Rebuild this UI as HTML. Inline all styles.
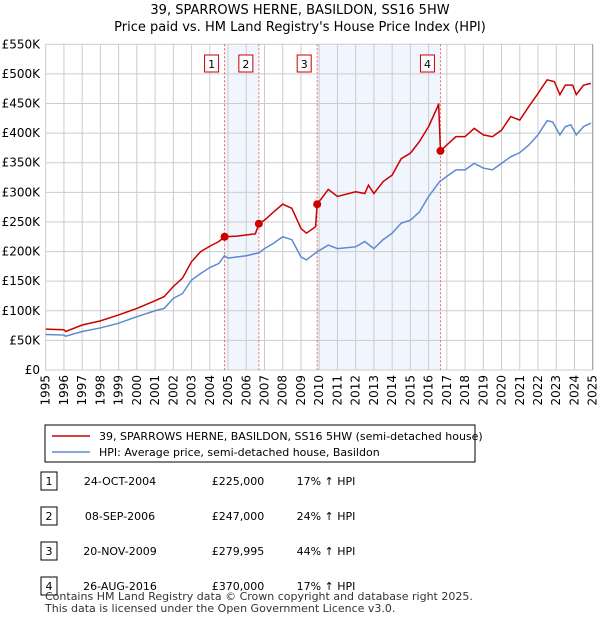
<!DOCTYPE html>
<html><head><meta charset="utf-8"><style>
body{margin:0;background:#fff;font-family:"DejaVu Sans","Liberation Sans",sans-serif;}
svg text{font-family:"DejaVu Sans","Liberation Sans",sans-serif;}
</style></head><body>
<svg id="c" width="600" height="620" xmlns="http://www.w3.org/2000/svg">
<text x="300" y="14" text-anchor="middle" font-size="13">39, SPARROWS HERNE, BASILDON, SS16 5HW</text>
<text x="300" y="31" text-anchor="middle" font-size="13">Price paid vs. HM Land Registry's House Price Index (HPI)</text>
<g id="plot"></g>
<rect x="45" y="425" width="430" height="37" fill="#fff" stroke="#000" stroke-width="1"/>
<line x1="52" y1="436" x2="90" y2="436" stroke="#cc0000" stroke-width="1.5"/>
<text x="99" y="440" font-size="11">39, SPARROWS HERNE, BASILDON, SS16 5HW (semi-detached house)</text>
<line x1="52" y1="452" x2="90" y2="452" stroke="#5b8bd0" stroke-width="1.5"/>
<text x="99" y="456" font-size="11">HPI: Average price, semi-detached house, Basildon</text>
<g id="table" font-size="11"></g>
<text x="45" y="600" font-size="11" fill="#333">Contains HM Land Registry data © Crown copyright and database right 2025.</text>
<text x="45" y="612" font-size="11" fill="#333">This data is licensed under the Open Government Licence v3.0.</text>
</svg>
<script>
const hpiYears=[1995,1996,1996.1,1997,1998,1999,2000,2001,2001.5,2002,2002.5,2003,2003.5,2004,2004.5,2004.8,2005,2006,2006.7,2007,2007.5,2008,2008.5,2009,2009.3,2009.9,2010.5,2011,2012,2012.5,2013,2013.5,2014,2014.5,2015,2015.5,2016,2016.6,2017,2017.5,2018,2018.5,2019,2019.5,2020,2020.5,2021,2021.5,2022,2022.5,2022.8,2023.2,2023.5,2023.8,2024.1,2024.5,2024.9];
const hpiValues=[60,59,57,65,71,79,90,100,104,121,129,152,163,173,180,193,189,193,198,205,214,225,220,191,186,200,211,205,208,217,205,220,231,248,253,267,293,318,327,338,338,349,341,338,349,360,367,380,397,421,419,397,411,414,397,411,417];
const priceYears=[1995,1996,1996.1,1997,1998,1999,2000,2001,2001.5,2002,2002.5,2003,2003.5,2004,2004.5,2004.81,2005.5,2006.5,2006.69,2007,2007.5,2008,2008.5,2009,2009.3,2009.8,2009.89,2010.5,2011,2012,2012.5,2012.7,2013,2013.5,2014,2014.5,2015,2015.5,2016,2016.5,2016.55,2016.65,2017,2017.5,2018,2018.5,2019,2019.5,2020,2020.5,2021,2021.5,2022,2022.5,2022.9,2023.2,2023.5,2023.9,2024.1,2024.5,2024.9];
const priceValues=[69,68,65,76,83,93,104,117,124,141,155,183,200,209,217,225,226,230,247,253,267,280,273,239,231,242,280,305,293,301,298,312,298,318,329,357,366,386,411,445,450,370,380,394,394,408,397,394,405,428,422,445,467,490,487,465,481,481,465,481,484];
const saleLabels=["1","2","3","4"];
const saleYears=[2004.81,2006.69,2009.89,2016.65];
const saleDates=["24-OCT-2004","08-SEP-2006","20-NOV-2009","26-AUG-2016"];
const salePrices=[225000,247000,279995,370000];
const saleText=["£225,000","£247,000","£279,995","£370,000"];
const saleHpi=["17% ↑ HPI","24% ↑ HPI","44% ↑ HPI","17% ↑ HPI"];
const yTicks=[0,50,100,150,200,250,300,350,400,450,500,550];
const xTicks=[];for(let y=1995;y<=2025;y++)xTicks.push(y);

const NS="http://www.w3.org/2000/svg";
const X0=45.7,X1=592.7,Y0=370,Y1=44.3;
const xs=y=>X0+(y-1995)/30*(X1-X0);
const ys=v=>Y0-v/550*(Y0-Y1);
function mk(t,a,p){const e=document.createElementNS(NS,t);for(const k in a)e.setAttribute(k,a[k]);(p||plot).appendChild(e);return e;}
const plot=document.getElementById('plot');
// shading
for(let i=0;i<saleYears.length;i+=2){
 const r=mk('rect',{x:xs(saleYears[i]),y:Y1,width:xs(saleYears[i+1])-xs(saleYears[i]),height:Y0-Y1,fill:'#eef3fc',opacity:0.8});
 
 
}
yTicks.forEach(v=>{
 const l=mk('line',{x1:X0,x2:X1,y1:ys(v),y2:ys(v),stroke:'#ccc','stroke-width':1});
 
 
 const t=mk('text',{x:40,y:ys(v)+4,'text-anchor':'end','font-size':12});
 t.textContent=v==0?'£0':'£'+v+'K';
 
 
});
xTicks.forEach(y=>{
 const l=mk('line',{x1:xs(y),x2:xs(y),y1:Y1,y2:Y0,stroke:'#ccc','stroke-width':1});
 
 
 const t=mk('text',{x:0,y:0,'text-anchor':'end','font-size':12,transform:`translate(${xs(y)+4},375) rotate(-90)`});
 t.textContent=y;
 
 
});
mk('line',{x1:X1,x2:X1,y1:Y1,y2:Y0,stroke:'#999'});
saleYears.forEach((y,i)=>{
 const l=mk('line',{x1:xs(y),x2:xs(y),y1:Y1,y2:Y0,stroke:'#f06060','stroke-dasharray':'2,2','stroke-width':1});
 
 
 const r=mk('rect',{x:xs(y)-20,y:55,width:14,height:17,fill:'#fff',stroke:'#cc0000'});
 
 
 const t=mk('text',{x:xs(y)-13,y:68,'text-anchor':'middle','font-size':11});
 t.textContent=saleLabels[i];
 
 
});
const hp=mk('polyline',{points:hpiYears.map((y,i)=>xs(y)+','+ys(hpiValues[i])).join(' '),fill:'none',stroke:'#5b8bd0','stroke-width':1.5});


const pp=mk('polyline',{points:priceYears.map((y,i)=>xs(y)+','+ys(priceValues[i])).join(' '),fill:'none',stroke:'#cc0000','stroke-width':1.5});


saleYears.forEach((y,i)=>{
 const c=mk('circle',{cx:xs(y),cy:ys(salePrices[i]/1000),r:4,fill:'#cc0000'});
 
 
});
const tb=document.getElementById('table');
saleLabels.forEach((s,i)=>{
 const cy=481+i*35;
 const r=mk('rect',{x:41,y:cy-9,width:16,height:18,fill:'#fff',stroke:'#000'},tb);
 
 
 const cells=[[49,s,'middle'],[120,saleDates[i],'middle'],[238,saleText[i],'middle'],[326,saleHpi[i],'middle']];
 cells.forEach(c=>{
  const t=mk('text',{x:c[0],y:cy+4,'text-anchor':c[2]},tb);
  t.textContent=c[1];
  
  
 });
});
</script>
</body></html>
